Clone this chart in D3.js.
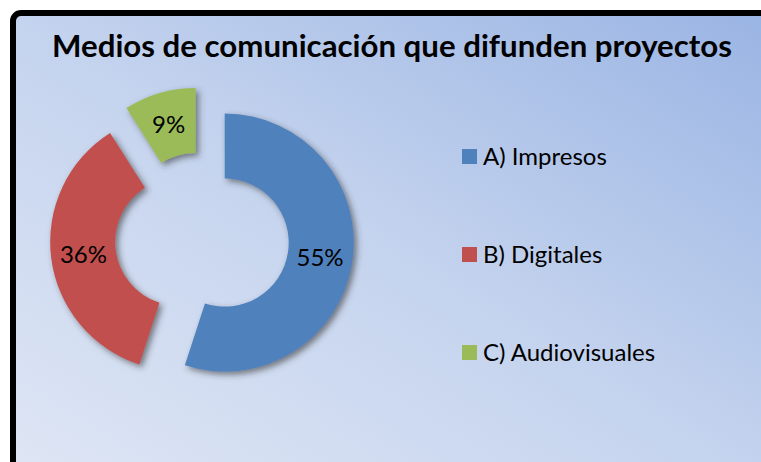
<!DOCTYPE html>
<html>
<head>
<meta charset="utf-8">
<script src="https://cdn.jsdelivr.net/npm/d3@7"></script>
<style>
  body { margin: 0; background: #fff; }
  svg { display: block; }
  text { font-family: Lato, "Open Sans", sans-serif; fill: #000; }
</style>
</head>
<body>
<div id="chart"></div>
<script>
// data
var categories = ["A) Impresos", "B) Digitales", "C) Audiovisuales"];
var values = [55, 36, 9];
var colors = ["#4f81bd", "#c0504d", "#9bbb59"];
var title = "Medios de comunicación que difunden proyectos";

var width = 761,
	height = 462;

var svg = d3.select("#chart").append("svg")
	.attr("width", width)
	.attr("height", height);

var defs = svg.append("defs");

// background gradient (light bottom-left -> blue top-right)
var grad = defs.append("linearGradient")
	.attr("id", "bg")
	.attr("x1", 0).attr("y1", 1)
	.attr("x2", 1).attr("y2", 0);
grad.append("stop").attr("offset", "0%").attr("stop-color", "#e0e7f5");
grad.append("stop").attr("offset", "50%").attr("stop-color", "#c4d3ee");
grad.append("stop").attr("offset", "100%").attr("stop-color", "#98b3e3");

// soft drop shadow for the slices
var shadow = defs.append("filter")
	.attr("id", "shadow")
	.attr("x", "-20%").attr("y", "-20%")
	.attr("width", "140%").attr("height", "140%");
shadow.append("feDropShadow")
	.attr("dx", 3)
	.attr("dy", 3)
	.attr("stdDeviation", 3)
	.attr("flood-color", "#333")
	.attr("flood-opacity", 0.6);

// frame (cut off on right and bottom like the original)
svg.append("rect")
	.attr("x", 13)
	.attr("y", 13)
	.attr("width", width + 20)
	.attr("height", height + 20)
	.attr("rx", 8)
	.attr("fill", "url(#bg)")
	.attr("stroke", "#000")
	.attr("stroke-width", 6);

// title
svg.append("text")
	.attr("x", 392)
	.attr("y", 57)
	.attr("text-anchor", "middle")
	.attr("font-size", 31)
	.attr("font-weight", "bold")
	.attr("textLength", 680)
	.attr("lengthAdjust", "spacingAndGlyphs")
	.text(title);

// donut
var cx = 202, cy = 239,
	outerR = 129, innerR = 64,
	explode = 23;

var pie = d3.pie().sort(null).value(function (d) { return d; });
var arc = d3.arc().innerRadius(innerR).outerRadius(outerR);
var total = d3.sum(values);

var slices = svg.append("g")
	.attr("transform", "translate(" + cx + "," + cy + ")")
	.selectAll(".slice")
	.data(pie(values))
	.enter()
	.append("g")
	.attr("class", "slice")
	.attr("transform", function (d) {
		var mid = (d.startAngle + d.endAngle) / 2;
		return "translate(" + (Math.sin(mid) * explode) + "," + (-Math.cos(mid) * explode) + ")";
	});

slices.append("path")
	.attr("d", arc)
	.attr("fill", function (d, i) { return colors[i]; })
	.attr("filter", "url(#shadow)");

slices.append("text")
	.attr("transform", function (d) { return "translate(" + arc.centroid(d) + ")"; })
	.attr("text-anchor", "middle")
	.attr("dy", "0.36em")
	.attr("font-size", 24)
	.text(function (d) { return Math.round(d.value / total * 100) + "%"; });

// legend
var legend = svg.selectAll(".legend")
	.data(categories)
	.enter()
	.append("g")
	.attr("class", "legend")
	.attr("transform", function (d, i) { return "translate(462," + (157 + i * 98) + ")"; });

legend.append("rect")
	.attr("x", 0)
	.attr("y", -8)
	.attr("width", 15)
	.attr("height", 15)
	.attr("fill", function (d, i) { return colors[i]; });

legend.append("text")
	.attr("x", 21)
	.attr("y", 8)
	.attr("font-size", 24)
	.text(function (d) { return d; });
</script>
</body>
</html>
